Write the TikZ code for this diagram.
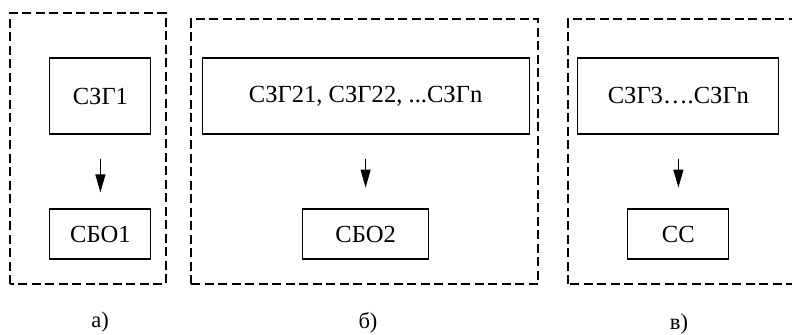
\documentclass[tikz,border=0pt]{standalone}
\usepackage{fontspec}
\setmainfont{Liberation Serif}
\usetikzlibrary{shapes,arrows.meta}
\tikzset{
	block/.style    = {draw, line width=0.8pt, rectangle, inner sep=0pt,
		font=\fontsize{17.5}{21}\selectfont},
	frame/.style    = {draw, line width=0.8pt, dash pattern=on 6.4pt off 3.2pt},
	caption/.style  = {font=\fontsize{16}{19}\selectfont}
}

\begin{document}
\begin{tikzpicture}[thick, >={Triangle[length=0.45cm,width=0.25cm]}]
	
	\useasboundingbox (0,0) rectangle (19.8,8.375);
	\clip (0,0) rectangle (19.8,8.375);
	
	% dashed frames
	\draw[frame] (0.25,1.275) rectangle (4.15,8.05);
	\draw[frame] (4.775,1.275) rectangle (13.45,7.9);
	\draw[frame] (14.2,1.275) rectangle (20.2,7.9);
	
	\draw
	node at (2.51,5.975) [block, minimum width=2.525cm, minimum height=1.9cm] (g1) {СЗГ1}
	node at (2.51,2.525) [block, minimum width=2.525cm, minimum height=1.25cm] (b1) {СБО1}
	node at (9.14,5.975) [block, minimum width=8.175cm, minimum height=1.9cm] (g2) {СЗГ21, СЗГ22, ...СЗГn}
	node at (9.14,2.525) [block, minimum width=3.15cm, minimum height=1.25cm] (b2) {СБО2}
	node at (16.96,5.975) [block, minimum width=5.025cm, minimum height=1.9cm] (g3) {СЗГ3….СЗГn}
	node at (16.96,2.525) [block, minimum width=2.525cm, minimum height=1.25cm] (c3) {СС};
	
	\draw[->, shorten <=0.6cm, shorten >=0.4cm](g1)--(b1);
	\draw[->, shorten <=0.6cm, shorten >=0.52cm](g2)--(b2);
	\draw[->, shorten <=0.6cm, shorten >=0.52cm](g3)--(c3);
	
	\draw
	node at (2.5,0.33) [caption] (la) {а)}
	node at (9.2,0.31) [caption] (lb) {б)}
	node at (16.975,0.27) [caption] (lc) {в)};
	
\end{tikzpicture}
\end{document}
